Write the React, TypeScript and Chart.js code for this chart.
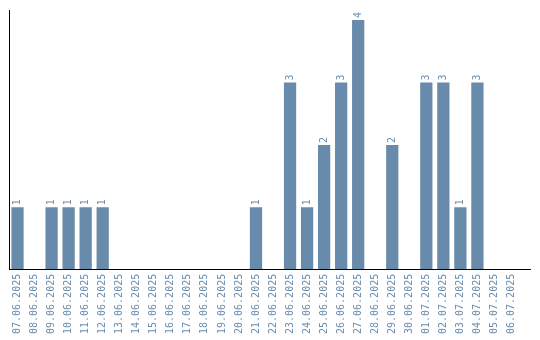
import React, { useEffect, useRef } from "react";
import { Chart, registerables } from "chart.js";

Chart.register(...registerables);

const categories = [
  "07.06.2025", "08.06.2025", "09.06.2025", "10.06.2025", "11.06.2025", "12.06.2025",
  "13.06.2025", "14.06.2025", "15.06.2025", "16.06.2025", "17.06.2025", "18.06.2025",
  "19.06.2025", "20.06.2025", "21.06.2025", "22.06.2025", "23.06.2025", "24.06.2025",
  "25.06.2025", "26.06.2025", "27.06.2025", "28.06.2025", "29.06.2025", "30.06.2025",
  "01.07.2025", "02.07.2025", "03.07.2025", "04.07.2025", "05.07.2025", "06.07.2025",
];

const counts = [
  1, 0, 1, 1, 1, 1,
  0, 0, 0, 0, 0, 0,
  0, 0, 1, 0, 3, 1,
  2, 3, 4, 0, 2, 0,
  3, 3, 1, 3, 0, 0,
];

const BAR_COLOR = "#698bab";
const TEXT_COLOR = "#6a8cad";
const FONT = "'DejaVu Sans Mono', monospace";
const AXIS_OVERHANG = 11;

const valueLabels = {
  id: "valueLabels",
  afterDatasetsDraw(chart: any) {
    const ctx = chart.ctx;
    const meta = chart.getDatasetMeta(0);
    const data = chart.data.datasets[0].data as number[];
    ctx.save();
    ctx.fillStyle = TEXT_COLOR;
    ctx.font = `10px ${FONT}`;
    ctx.textAlign = "left";
    ctx.textBaseline = "middle";
    meta.data.forEach((el: any, i: number) => {
      const v = data[i];
      if (!v) return;
      ctx.save();
      ctx.translate(el.x, el.y - 2);
      ctx.rotate(-Math.PI / 2);
      ctx.fillText(String(v), 0, 0);
      ctx.restore();
    });
    ctx.restore();
  },
  afterDraw(chart: any) {
    const { ctx, chartArea } = chart;
    const y = Math.floor(chartArea.bottom) + 0.5;
    ctx.save();
    ctx.strokeStyle = "#000";
    ctx.lineWidth = 1;
    ctx.beginPath();
    ctx.moveTo(chartArea.left, y);
    ctx.lineTo(chartArea.right + AXIS_OVERHANG, y);
    ctx.stroke();
    ctx.restore();
  },
};

export default function App() {
  const ref = useRef<HTMLCanvasElement | null>(null);

  useEffect(() => {
    if (!ref.current) return;
    const chart = new Chart(ref.current, {
      type: "bar",
      data: {
        labels: categories,
        datasets: [
          {
            data: counts,
            backgroundColor: BAR_COLOR,
            borderWidth: 0,
          },
        ],
      },
      options: {
        animation: false,
        responsive: true,
        maintainAspectRatio: false,
        layout: { padding: { left: 9, top: 10, right: 20, bottom: 2 } },
        plugins: {
          legend: { display: false },
          tooltip: { enabled: false },
        },
        scales: {
          x: {
            grid: { display: false, drawTicks: false },
            border: { display: false },
            ticks: {
              autoSkip: false,
              minRotation: 90,
              maxRotation: 90,
              padding: 4,
              color: TEXT_COLOR,
              font: { family: FONT, size: 10 },
            },
          },
          y: {
            min: 0,
            max: 4.16,
            grid: { display: false, drawTicks: false },
            border: { display: true, color: "#000", width: 1 },
            ticks: { display: false },
          },
        },
      },
      plugins: [valueLabels],
    });
    return () => chart.destroy();
  }, []);

  return (
    <div style={{ position: "absolute", left: 0, top: 0, width: 540, height: 340, background: "#fff" }}>
      <canvas ref={ref} />
    </div>
  );
}
